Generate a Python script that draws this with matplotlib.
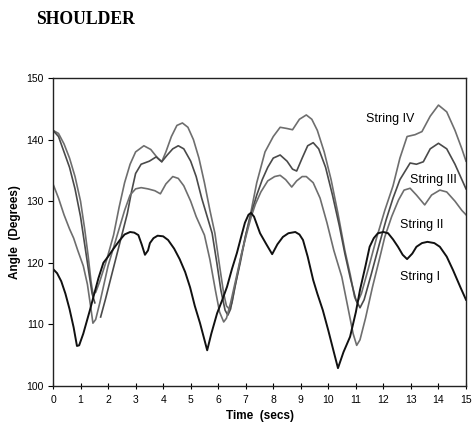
import numpy as np
import matplotlib
matplotlib.use("Agg")
import matplotlib.pyplot as plt

# Shoulder angle (degrees) over time (secs) for four string conditions
t_s1 = [0, 0.15, 0.3, 0.45, 0.6, 0.75, 0.87, 0.95, 1.1, 1.34, 1.5, 1.65, 1.83, 2.0, 2.2,
        2.43, 2.6, 2.8, 2.95, 3.1, 3.22, 3.34, 3.45, 3.52, 3.65, 3.8, 4.0, 4.18, 4.4,
        4.6, 4.8, 4.98, 5.15, 5.34, 5.5, 5.6, 5.75, 5.96, 6.15, 6.32, 6.5, 6.68, 6.85,
        6.97, 7.1, 7.19, 7.3, 7.52, 7.75, 7.96, 8.15, 8.35, 8.55, 8.8, 8.95, 9.08, 9.25,
        9.45, 9.6, 9.8, 10.0, 10.2, 10.35, 10.55, 10.79, 11.0, 11.15, 11.35, 11.5,
        11.65, 11.8, 12.0, 12.17, 12.35, 12.53, 12.7, 12.86, 13.05, 13.2, 13.4, 13.6,
        13.85, 14.05, 14.3, 14.53, 14.8, 15.0]
string_1 = [119, 118.3, 117, 115, 112.5, 109.5, 106.5, 106.6, 108.5, 112.3, 115, 117.5,
            120, 121, 122.3, 123.7, 124.6, 125, 124.9, 124.5, 123, 121.3, 122, 123.2,
            124, 124.4, 124.3, 123.7, 122.3, 120.6, 118.5, 116, 113, 110.2, 107.5, 105.8,
            108.5, 111.8, 114, 116.1, 119, 121.6, 124.5, 126.5, 127.8, 128.1, 127.5,
            124.8, 123, 121.4, 123, 124.2, 124.8, 125, 124.6, 123.7, 121, 117.2, 115,
            112.3, 109, 105.5, 102.9, 105.5, 108, 112, 115.6, 119.5, 122.6, 124, 124.8,
            125, 124.8, 123.8, 122.6, 121.3, 120.6, 121.5, 122.6, 123.2, 123.4, 123.2,
            122.6, 121, 118.8, 116, 114]

t_s2 = [0, 0.2, 0.4, 0.6, 0.75, 0.9, 1.1, 1.25, 1.38, 1.45, 1.55, 1.7, 1.85, 2.0, 2.2,
        2.4, 2.6, 2.8, 3.0, 3.2, 3.45, 3.7, 3.9, 4.1, 4.35, 4.55, 4.75, 5.0, 5.2, 5.5,
        5.7, 5.9, 6.05, 6.2, 6.3, 6.45, 6.65, 6.85, 7.05, 7.2, 7.35, 7.55, 7.8, 8.05,
        8.25, 8.45, 8.67, 8.85, 9.05, 9.2, 9.45, 9.7, 9.95, 10.2, 10.49, 10.7, 10.9,
        11.03, 11.15, 11.35, 11.6, 11.85, 12.05, 12.3, 12.55, 12.75, 12.97, 13.2, 13.5,
        13.75, 14.05, 14.3, 14.6, 14.85, 15.0]
string_2 = [132.8, 130.5, 127.8, 125.5, 124, 122, 119.5, 116.5, 112.5, 110.2, 110.8,
            113.5, 116.5, 119.5, 122.5, 125.5, 128.5, 131, 132, 132.2, 132, 131.7, 131.2,
            132.8, 134, 133.7, 132.5, 130, 127.5, 124.5, 120.5, 115.5, 112, 110.4, 111,
            113.5, 117.5, 121.5, 125, 127.5, 129.5, 131.5, 133.3, 134, 134.2, 133.5,
            132.3, 133.3, 134, 134, 133, 130.5, 126.5, 122, 117.7, 113, 108.5, 106.6,
            107.5, 111, 116, 120.5, 124.2, 127.5, 130.2, 131.8, 132.1, 131, 129.4, 131,
            131.8, 131.5, 130, 128.5, 127.8]

t_s3 = [0, 0.2, 0.4, 0.6, 0.8, 1.0, 1.15, 1.3, 1.42, 1.52, np.nan, 1.73, 1.9, 2.1, 2.3,
        2.5, 2.7, 2.85, 3.0, 3.2, 3.5, 3.75, 3.95, 4.15, 4.35, 4.55, 4.75, 5.0, 5.2,
        5.4, 5.6, 5.78, 5.95, 6.1, 6.25, 6.35, 6.45, 6.6, 6.8, 7.0, 7.2, 7.4, 7.6, 7.8,
        8.0, 8.25, 8.5, 8.7, 8.85, 9.05, 9.25, 9.45, 9.65, 9.9, 10.15, 10.4, 10.6, 10.8,
        11.0, 11.15, 11.3, 11.55, 11.85, 12.1, 12.35, 12.6, 12.97, 13.2, 13.45, 13.7,
        14.0, 14.3, 14.6, 14.85, 15.0]
string_3 = [141.5, 140.5, 138, 135.5, 132, 127.5, 123, 118.5, 115, 113.5, np.nan, 111.2,
            114, 117.5, 121, 124.5, 128, 131.5, 134.5, 136, 136.5, 137.2, 136.4, 137.5,
            138.5, 139, 138.5, 136.5, 134, 130.5, 127.5, 124.8, 120, 115.5, 112.3, 111.5,
            112.5, 116, 120, 124.5, 128, 131, 133.5, 135.5, 137, 137.5, 136.5, 135.2,
            134.9, 137, 139, 139.5, 138.5, 135.5, 131, 126, 121.5, 117.5, 114, 112.7,
            114, 118, 123, 127, 130.5, 133.5, 136.2, 136, 136.4, 138.5, 139.4, 138.5,
            136, 133.5, 132]

t_s4 = [0, 0.2, 0.4, 0.6, 0.8, 1.0, 1.15, 1.28, 1.38, 1.45, 1.55, 1.7, 1.95, 2.2, 2.4,
        2.6, 2.8, 3.0, 3.3, 3.55, 3.8, 3.95, 4.1, 4.3, 4.5, 4.7, 4.9, 5.1, 5.3, 5.5,
        5.7, 5.88, 6.05, 6.2, 6.3, 6.4, 6.5, 6.65, 6.85, 7.0, 7.2, 7.4, 7.7, 8.0, 8.25,
        8.5, 8.7, 8.95, 9.2, 9.4, 9.6, 9.85, 10.1, 10.35, 10.6, 10.8, 10.95, 11.05,
        11.2, 11.45, 11.75, 12.05, 12.35, 12.6, 12.86, 13.15, 13.4, 13.7, 14.0, 14.3,
        14.6, 14.85, 15.0]
string_4 = [141.5, 141, 139.3, 137, 134, 130, 125.5, 121, 117, 115, 115.2, 117, 120.5,
            124.5, 129, 133, 136, 138, 139, 138.4, 137, 136.4, 138, 140.5, 142.3, 142.7,
            142, 140, 137, 133, 128.5, 124.8, 119.5, 115, 113, 112.5, 113.5, 117, 121.5,
            124.5, 128.5, 133, 138, 140.5, 142, 141.8, 141.6, 143.3, 144, 143.3, 141.5,
            138, 133.5, 128, 122, 118, 114.5, 113.5, 115, 119, 124, 128.5, 132.5, 137,
            140.5, 140.8, 141.3, 143.8, 145.6, 144.5, 141.5, 138.5, 136.5]

x_ticks = list(range(0, 16))
y_ticks = [100, 110, 120, 130, 140, 150]
series_names = ["String I", "String II", "String III", "String IV"]

plt.rcParams["font.family"] = ["Liberation Sans", "DejaVu Sans"]

fig = plt.figure(figsize=(4.73, 4.23), dpi=100)
ax = fig.add_axes([53 / 473, 1 - 386 / 423, 413 / 473, 308 / 423])

gray = "#6e6e6e"
ax.plot(t_s4, string_4, color=gray, lw=1.2)
ax.plot(t_s3, string_3, color="#4a4a4a", lw=1.2)
ax.plot(t_s2, string_2, color=gray, lw=1.2)
ax.plot(t_s1, string_1, color="#111111", lw=1.4)

ax.set_xlim(0, 15)
ax.set_ylim(100, 150)
ax.set_xticks(x_ticks)
ax.set_yticks(y_ticks)
ax.tick_params(axis="x", direction="inout", length=5, width=0.8, labelsize=7.5, pad=4)
ax.tick_params(axis="y", direction="out", length=3.5, width=0.8, labelsize=7.5, pad=3)
for s in ax.spines.values():
    s.set_linewidth(1.0)
    s.set_color("#222222")

ax.set_xlabel("Time  (secs)", fontsize=8.5, fontweight="bold", labelpad=3.5)
ax.set_ylabel("Angle  (Degrees)", fontsize=8.5, fontweight="bold", labelpad=4)

label_pos = {"String IV": (11.35, 143.3), "String III": (12.95, 133.4),
             "String II": (12.6, 126.1), "String I": (12.6, 117.7)}
for name in series_names:
    x, y = label_pos[name]
    ax.text(x, y, name, fontsize=9, va="center", ha="left")

fig.text(36 / 473, 1 - 24 / 423, "SHOULDER", fontsize=12.7, fontweight="bold",
         family=["Liberation Serif", "DejaVu Serif"], va="baseline", ha="left")

fig.savefig("out.png", dpi=100)
